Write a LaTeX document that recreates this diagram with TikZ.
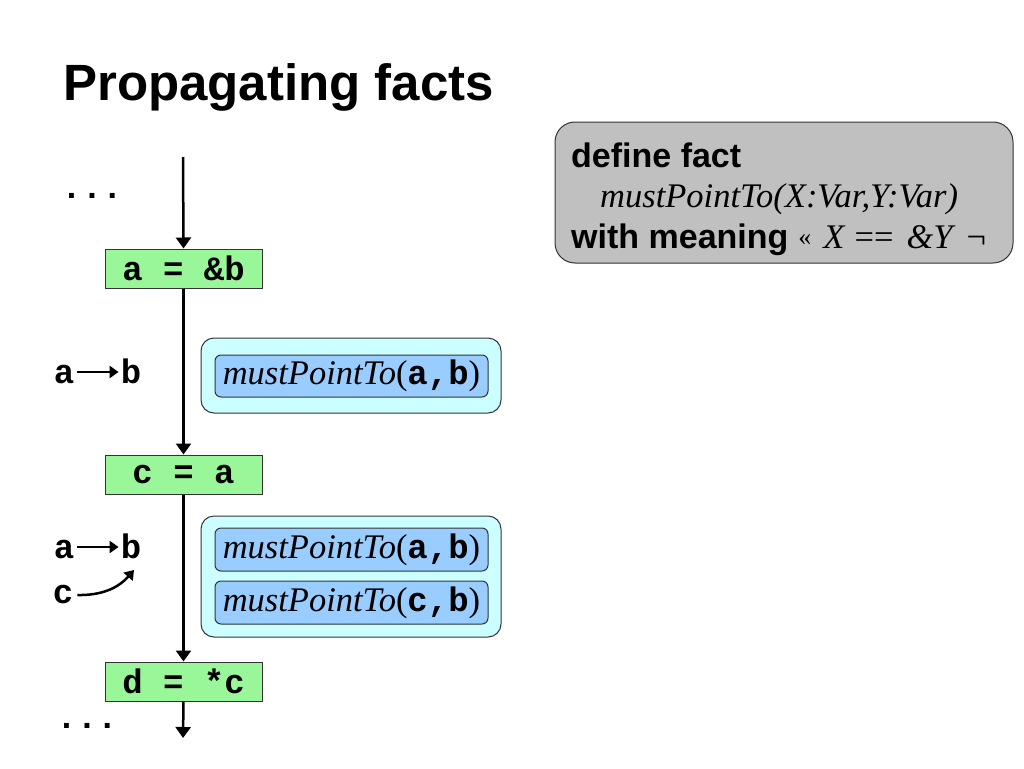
\documentclass[tikz,border=0pt]{standalone}
\usepackage{fontspec}
\setmainfont{Liberation Serif}
\setsansfont{Liberation Sans}
\setmonofont{Liberation Mono}
\usetikzlibrary{arrows.meta}
\definecolor{stmtgreen}{HTML}{99F799}
\definecolor{factcyan}{HTML}{CCFFFF}
\definecolor{factblue}{HTML}{99CCFF}
\definecolor{defgray}{HTML}{C0C0C0}
\newcommand\codefont{\fontsize{34}{36}\selectfont\ttfamily\bfseries}
\newcommand\itfont{\fontsize{34.5}{36}\selectfont\rmfamily\mdseries\itshape}
\newcommand\romfont{\fontsize{34.5}{36}\selectfont\rmfamily\mdseries\upshape}
\newcommand\sansbold{\fontsize{34}{36}\selectfont\sffamily\bfseries}
\newcommand\titlefont{\fontsize{51}{56}\selectfont\sffamily\bfseries}
\newcommand\mpt[2]{{\itfont mustPointTo}{\romfont(}{\codefont #1,#2}{\romfont)}}
\begin{document}
\begin{tikzpicture}[x=1pt,y=-1pt,
  stmt/.style={draw=black!80, line width=1pt, fill=stmtgreen, minimum width=157pt, minimum height=39pt, inner sep=0pt, font=\codefont},
  flow/.style={line width=2.5pt, -{Triangle[length=11pt,width=15pt]}},
  small/.style={line width=2.5pt, -{Triangle[length=9pt,width=12pt]}},
  outerbox/.style={draw=black!80, line width=1pt, fill=factcyan, rounded corners=13pt, inner sep=0pt},
  innerbox/.style={draw=black!80, line width=1pt, fill=factblue, rounded corners=6pt, minimum width=273pt, inner sep=0pt},
  lbl/.style={font=\codefont, inner sep=0pt, anchor=base}
]
\useasboundingbox (0,0) rectangle (1024,768);
\node[anchor=base west, font=\titlefont, inner sep=0pt] (title) at (63,100) {Propagating facts};

% definition box
\node[draw=black!80, line width=1pt, fill=defgray, rounded corners=20pt, minimum width=458pt, minimum height=141pt, inner sep=0pt] (def) at (784,192.5) {};
\node[anchor=base west, inner sep=0pt, font=\sansbold] (d1) at (571,167) {define fact};
\node[anchor=base west, inner sep=0pt, font=\itfont] (d2) at (600,207) {mustPointTo(X:Var,Y:Var)};
\node[anchor=base west, inner sep=0pt] (d3) at (571,248) {\sansbold with meaning\hspace{10pt}{\romfont\raisebox{3pt}{\fontsize{26}{30}\selectfont«}\hspace{12pt}\textit{X}\hspace{9pt}==\hspace{13pt}\textit{\&Y}\hspace{11pt}¬}};

% flow
\coordinate (top) at (183,157);
\coordinate (bot) at (183,738);
\node[stmt] (s1) at (183.5,268.5) {a = \&b};
\node[stmt] (s2) at (183.5,474.5) {c = a};
\node[stmt] (s3) at (183.5,681.5) {d = *c};
\draw[flow] (top) -- (s1.north);
\draw[flow] (s1.south) -- (s2.north);
\draw[flow] (s2.south) -- (s3.north);
\draw[flow] (s3.south) -- (bot);

\node[lbl] (dots1) at (92,198) {...};
\node[lbl] (dots2) at (87,728) {...};

% left labels
\node[lbl] (a1) at (64,383) {a};
\node[lbl] (b1) at (131,383) {b};
\draw[small] ([xshift=3pt,yshift=11pt]a1.base east) -- ([xshift=-2pt,yshift=11pt]b1.base west);
\node[lbl] (a2) at (64,558) {a};
\node[lbl] (b2) at (131,558) {b};
\draw[small] ([xshift=3pt,yshift=11pt]a2.base east) -- ([xshift=-2pt,yshift=11pt]b2.base west);
\node[lbl] (c2) at (63,603) {c};
\coordinate (c2t) at (134,570);
\draw[small] ([xshift=4pt,yshift=8pt]c2.base east) to[bend right=25] (c2t);

% fact boxes
\node[outerbox, minimum width=300pt, minimum height=75pt] (f1) at (351,375.5) {};
\node[innerbox, minimum height=42pt] (m1) at (351.5,376) {\mpt{a}{b}};
\node[outerbox, minimum width=300pt, minimum height=121pt] (f2) at (351,576.5) {};
\node[innerbox, minimum height=43pt] (m2) at (351.5,549.5) {\mpt{a}{b}};
\node[innerbox, minimum height=43pt] (m3) at (351.5,602.5) {\mpt{c}{b}};
\end{tikzpicture}
\end{document}
